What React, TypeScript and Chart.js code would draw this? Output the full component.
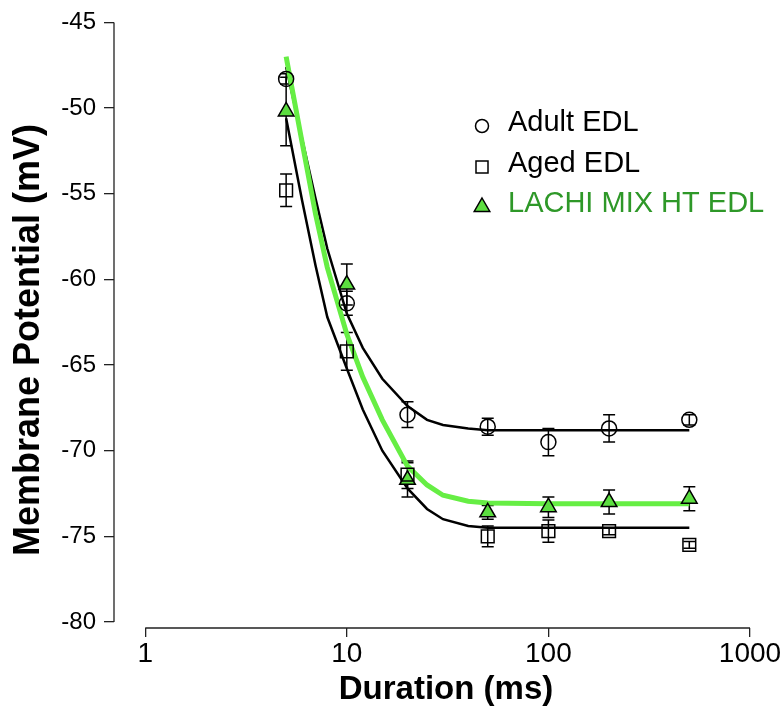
import React, { useEffect, useRef } from 'react';
import { Chart, registerables } from 'chart.js';

Chart.register(...registerables);

// ---- data ----
const durations = [5, 10, 20, 50, 100, 200, 500];

const adultMean = [-48.3, -61.4, -67.9, -68.6, -69.5, -68.7, -68.2];
const adultSE = [0.3, 0.7, 0.75, 0.5, 0.8, 0.8, 0.3];

const agedMean = [-54.8, -64.2, -71.4, -75.0, -74.7, -74.7, -75.5];
const agedSE = [0.95, 1.1, 0.8, 0.6, 0.65, 0.2, 0.2];

const lachiMean = [-50.2, -60.3, -71.7, -73.6, -73.3, -73.0, -72.8];
const lachiSE = [2.0, 1.2, 1.0, 0.4, 0.6, 0.7, 0.7];

const fitX = [5, 6, 7, 8, 10, 12, 15, 20, 25, 30, 40, 50, 100, 500];
const adultFit = [-47.6, -51.8, -55.3, -58.2, -62.0, -64.0, -65.8, -67.4, -68.2, -68.5, -68.7, -68.8, -68.8, -68.8];
const agedFit = [-50.6, -55.4, -59.2, -62.2, -65.2, -67.6, -70.0, -72.2, -73.4, -74.0, -74.4, -74.5, -74.5, -74.5];
const lachiFit = [-47.0, -52.0, -56.2, -59.3, -63.2, -65.7, -68.2, -70.9, -72.0, -72.6, -72.95, -73.05, -73.1, -73.1];

const seriesLabels = ['Adult EDL', 'Aged EDL', 'LACHI MIX HT EDL'];
const xTicks = [1, 10, 100, 1000];
const yTicks = [-45, -50, -55, -60, -65, -70, -75, -80];
const xTitle = 'Duration (ms)';
const yTitle = 'Membrane Potential (mV)';

const FONT = '"Liberation Sans", Arial, Helvetica, sans-serif';
const GREEN_LINE = 'rgb(102,238,68)';
const GREEN_FILL = 'rgb(92,222,64)';
const GREEN_TEXT = 'rgb(46,152,40)';

const pts = (xs: number[], ys: number[]) => xs.map((x, i) => ({ x, y: ys[i] }));

function drawMarker(ctx: CanvasRenderingContext2D, style: string, x: number, y: number, r: number, fill: string) {
  ctx.beginPath();
  if (style === 'circle') {
    ctx.arc(x, y, r, 0, Math.PI * 2);
  } else if (style === 'rect') {
    ctx.rect(x - r, y - r, 2 * r, 2 * r);
  } else {
    ctx.moveTo(x, y - r);
    ctx.lineTo(x + r * 0.866, y + r * 0.5);
    ctx.lineTo(x - r * 0.866, y + r * 0.5);
    ctx.closePath();
  }
  if (fill !== 'transparent') {
    ctx.fillStyle = fill;
    ctx.fill();
  }
  ctx.stroke();
}

const errorBarPlugin = {
  id: 'errorBars',
  beforeDatasetsDraw(chart: any) {
    const ctx = chart.ctx;
    const xs = chart.scales.x;
    const ys = chart.scales.y;
    ctx.save();
    ctx.strokeStyle = '#000';
    ctx.lineWidth = 1.5;
    chart.data.datasets.forEach((ds: any) => {
      if (!ds.errors) return;
      ds.data.forEach((p: any, i: number) => {
        const e = ds.errors[i];
        const px = xs.getPixelForValue(p.x);
        const top = ys.getPixelForValue(p.y + e);
        const bot = ys.getPixelForValue(p.y - e);
        ctx.beginPath();
        ctx.moveTo(px, top);
        ctx.lineTo(px, bot);
        ctx.moveTo(px - 6, top);
        ctx.lineTo(px + 6, top);
        ctx.moveTo(px - 6, bot);
        ctx.lineTo(px + 6, bot);
        ctx.stroke();
      });
    });
    ctx.restore();
  },
};

const decorPlugin = {
  id: 'decor',
  afterDraw(chart: any) {
    const ctx = chart.ctx;
    const xs = chart.scales.x;
    const ys = chart.scales.y;
    const area = chart.chartArea;
    ctx.save();
    // axis lines
    ctx.strokeStyle = '#222';
    ctx.lineWidth = 1.3;
    ctx.beginPath();
    ctx.moveTo(area.left, ys.getPixelForValue(yTicks[0]));
    ctx.lineTo(area.left, ys.getPixelForValue(yTicks[yTicks.length - 1]));
    ctx.moveTo(xs.getPixelForValue(xTicks[0]), area.bottom);
    ctx.lineTo(xs.getPixelForValue(xTicks[xTicks.length - 1]), area.bottom);
    ctx.stroke();

    // titles
    ctx.fillStyle = '#000';
    ctx.textAlign = 'center';
    ctx.textBaseline = 'middle';
    ctx.font = `bold 33px ${FONT}`;
    ctx.fillText(xTitle, 446, 690);
    ctx.font = `bold 36px ${FONT}`;
    ctx.translate(29, 340);
    ctx.rotate(-Math.PI / 2);
    ctx.fillText(yTitle, 0, 0);
    ctx.restore();

    // legend
    ctx.save();
    const rows = [
      { style: 'circle', r: 6.5, fill: 'transparent', color: '#000', y: 123 },
      { style: 'rect', r: 6, fill: 'transparent', color: '#000', y: 164 },
      { style: 'triangle', r: 9, fill: GREEN_FILL, color: GREEN_TEXT, y: 204 },
    ];
    ctx.font = `29px ${FONT}`;
    ctx.textAlign = 'left';
    ctx.textBaseline = 'middle';
    rows.forEach((row, i) => {
      ctx.strokeStyle = '#000';
      ctx.lineWidth = 1.5;
      drawMarker(ctx, row.style, 482, row.y + 3, row.r, row.fill);
      ctx.fillStyle = row.color;
      ctx.fillText(seriesLabels[i], 508, row.y);
    });
    ctx.restore();
  },
};

export default function App() {
  const ref = useRef<HTMLCanvasElement | null>(null);

  useEffect(() => {
    if (!ref.current) return;
    const chart = new Chart(ref.current, {
      type: 'scatter',
      data: {
        datasets: [
          {
            label: seriesLabels[0],
            data: pts(durations, adultMean),
            errors: adultSE,
            pointStyle: 'circle',
            pointRadius: 7.5,
            pointBorderWidth: 1.5,
            pointBorderColor: '#000',
            pointBackgroundColor: 'transparent',
            showLine: false,
            order: 0,
          } as any,
          {
            label: seriesLabels[1],
            data: pts(durations, agedMean),
            errors: agedSE,
            pointStyle: 'rect',
            pointRadius: 9,
            pointBorderWidth: 1.5,
            pointBorderColor: '#000',
            pointBackgroundColor: 'transparent',
            showLine: false,
            order: 0,
          } as any,
          {
            label: seriesLabels[2],
            data: pts(durations, lachiMean),
            errors: lachiSE,
            pointStyle: 'triangle',
            pointRadius: 9,
            pointBorderWidth: 1.5,
            pointBorderColor: '#000',
            pointBackgroundColor: GREEN_FILL,
            showLine: false,
            order: 0,
          } as any,
          {
            label: 'Adult fit',
            data: pts(fitX, adultFit),
            showLine: true,
            borderColor: '#000',
            borderWidth: 2.5,
            pointRadius: 0,
            tension: 0,
            order: 2,
          },
          {
            label: 'Aged fit',
            data: pts(fitX, agedFit),
            showLine: true,
            borderColor: '#000',
            borderWidth: 2.5,
            pointRadius: 0,
            tension: 0,
            order: 2,
          },
          {
            label: 'LACHI fit',
            data: pts(fitX, lachiFit),
            showLine: true,
            borderColor: GREEN_LINE,
            borderWidth: 5,
            pointRadius: 0,
            tension: 0,
            order: 1,
          },
        ],
      },
      options: {
        responsive: false,
        animation: false,
        devicePixelRatio: 1,
        clip: false as any,
        layout: { padding: { top: 19, right: 33, left: 0, bottom: 0 } },
        plugins: {
          legend: { display: false },
          tooltip: { enabled: false },
        },
        scales: {
          x: {
            type: 'logarithmic',
            min: 0.7275,
            max: 1000,
            afterBuildTicks: (s: any) => {
              s.ticks = xTicks.map((v) => ({ value: v }));
            },
            afterFit: (s: any) => {
              s.height = 86;
            },
            border: { display: false },
            grid: {
              display: true,
              drawOnChartArea: false,
              drawTicks: true,
              tickLength: 9,
              color: '#222',
              lineWidth: 1.3,
            },
            ticks: {
              color: '#000',
              font: { family: FONT, size: 28 },
              padding: 0,
              maxRotation: 0,
              autoSkip: false,
              callback: (v: any) => String(v),
            },
          },
          y: {
            type: 'linear',
            min: -80.35,
            max: -45,
            afterBuildTicks: (s: any) => {
              s.ticks = yTicks.map((v) => ({ value: v }));
            },
            afterFit: (s: any) => {
              s.width = 114;
            },
            border: { display: false },
            grid: {
              display: true,
              drawOnChartArea: false,
              drawTicks: true,
              tickLength: 10,
              color: '#222',
              lineWidth: 1.3,
            },
            ticks: {
              color: '#000',
              font: { family: FONT, size: 24 },
              padding: 8,
              autoSkip: false,
              callback: (v: any) => String(v),
            },
          },
        },
      } as any,
      plugins: [errorBarPlugin, decorPlugin],
    });
    return () => chart.destroy();
  }, []);

  return (
    <div style={{ position: 'fixed', left: 0, top: 0, width: 783, height: 714, background: '#fff' }}>
      <canvas ref={ref} width={783} height={714} style={{ display: 'block' }} />
    </div>
  );
}
